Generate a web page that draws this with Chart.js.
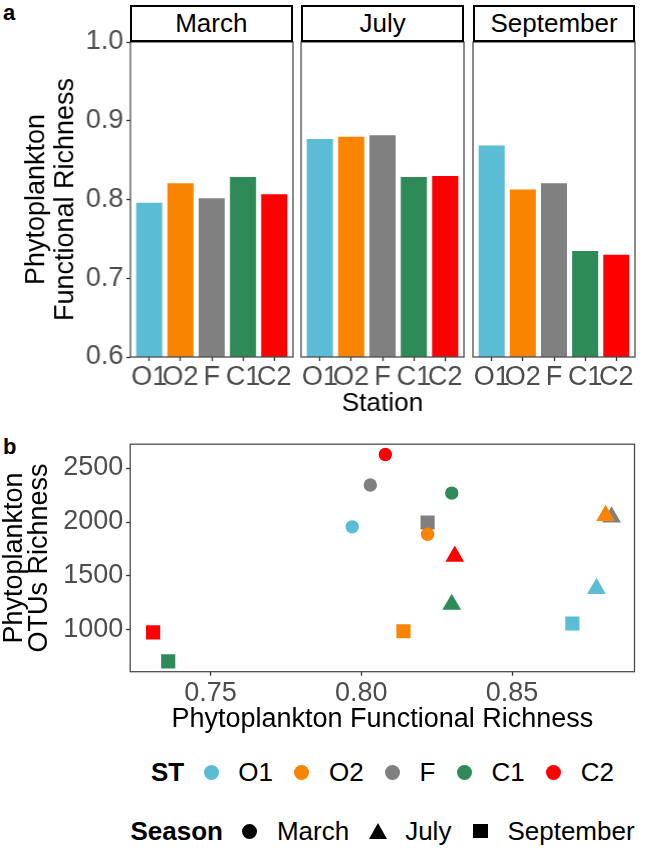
<!DOCTYPE html>
<html>
<head>
<meta charset="utf-8">
<script src="https://cdn.jsdelivr.net/npm/chart.js@4.4.1/dist/chart.umd.min.js"></script>
<style>
  html, body { margin: 0; padding: 0; background: #fff; }
  body { width: 646px; height: 852px; position: relative; overflow: hidden; font-family: 'Liberation Sans', Arial, sans-serif; }
  canvas { position: absolute; }
  .tag { position: absolute; left: 3px; font-weight: bold; font-size: 22px; line-height: 22px; }
  .strip { position: absolute; top: 5px; height: 37px; box-sizing: border-box; border: 2.5px solid #000; background: #fff;
           font-size: 26px; line-height: 32px; text-align: center; }
  .legend { position: absolute; left: 0; width: 765px; height: 30px; display: flex; justify-content: center; align-items: center;
            font-size: 26px; line-height: 30px; }
  .legend .title { font-weight: bold; margin-right: 16px; }
  .legend .key { width: 22px; height: 22px; display: flex; align-items: center; justify-content: center; }
  .legend .lab { margin-left: 16px; margin-right: 18px; }
  .legend .lab:last-child { margin-right: 0; }
  .dot { width: 15px; height: 15px; border-radius: 50%; }
  .tri { width: 0; height: 0; border-left: 9.3px solid transparent; border-right: 9.3px solid transparent; border-bottom: 16px solid #000; }
  .sq { width: 14.5px; height: 14.5px; background: #000; }
</style>
</head>
<body>
<div class="tag" style="top:2px">a</div>
<div class="tag" style="top:436px">b</div>
<script>
// stations and seasons
const stations = ['O1', 'O2', 'F', 'C1', 'C2'];
const seasons = ['March', 'July', 'September'];
const stationColors = ['#5BBCD6', '#F98400', '#808080', '#2E8B57', '#FF0000'];

// phytoplankton functional richness per station
const funcMarch = [0.797, 0.822, 0.803, 0.830, 0.808];
const funcJuly = [0.878, 0.881, 0.883, 0.830, 0.831];
const funcSeptember = [0.870, 0.814, 0.822, 0.736, 0.731];

// phytoplankton OTUs richness per station
const otuMarch = [1955, 1887, 2343, 2268, 2625];
const otuJuly = [1384, 2060, 2045, 1236, 1682];
const otuSeptember = [1060, 988, 1995, 709, 977];

const barTicks = [0.6, 0.7, 0.8, 0.9, 1.0];
const otuTicks = [1000, 1500, 2000, 2500];
const funcTicks = [0.75, 0.80, 0.85];

const seasonStyles = ['circle', 'triangle', 'rect'];
const seasonRadius = [6.7, 10.8, 10];
const funcBySeason = [funcMarch, funcJuly, funcSeptember];
const otuBySeason = [otuMarch, otuJuly, otuSeptember];

Chart.defaults.font.family = "'Liberation Sans', Arial, sans-serif";
Chart.defaults.plugins.legend.display = false;
Chart.defaults.plugins.tooltip.enabled = false;

const GREY_TXT = '#4D4D4D';
const TICK_COL = '#333333';

// ggplot-like panel border
const panelBorder = {
  id: 'panelBorder',
  afterDatasetsDraw(chart) {
    const { ctx, chartArea: a } = chart;
    ctx.save();
    ctx.strokeStyle = '#4D4D4D';
    ctx.lineWidth = 1.3;
    ctx.strokeRect(a.left, a.top, a.right - a.left, a.bottom - a.top);
    ctx.restore();
  }
};

function addCanvas(left, top, w, h) {
  const c = document.createElement('canvas');
  c.width = w; c.height = h;
  c.style.left = left + 'px'; c.style.top = top + 'px';
  c.style.width = w + 'px'; c.style.height = h + 'px';
  document.body.appendChild(c);
  return c;
}

// ---- panel a: three facets ----
const facetLeft = [130, 301.4, 472.8];
const facetWidth = 162.5;
const facetH = 425;

function drawFacet(i, values) {
  const first = i === 0;
  const lead = first ? 130 : 12;
  const cv = addCanvas(facetLeft[i] - lead, 0, lead + facetWidth + 12, facetH);

  const strip = document.createElement('div');
  strip.className = 'strip';
  strip.style.left = facetLeft[i] + 'px';
  strip.style.width = facetWidth + 'px';
  strip.textContent = seasons[i];
  document.body.appendChild(strip);

  new Chart(cv, {
    type: 'bar',
    data: {
      datasets: [{
        data: values.map((v, k) => ({ x: k + 1, y: v })),
        backgroundColor: stationColors,
        borderColor: 'rgba(255,255,255,0.6)',
        borderWidth: 1,
        borderSkipped: 'start',
        barPercentage: 0.9,
        categoryPercentage: 1
      }]
    },
    options: {
      responsive: false,
      devicePixelRatio: 1,
      animation: false,
      layout: { padding: { left: first ? 0 : lead, right: 12, top: 42, bottom: 0 } },
      scales: {
        x: {
          type: 'linear', min: 0.4, max: 5.6, offset: false,
          afterBuildTicks: s => { s.ticks = stations.map((_, k) => ({ value: k + 1 })); },
          afterFit: s => { s.height = facetH - 357; s.paddingLeft = 0; s.paddingRight = 0; },
          ticks: { autoSkip: false, maxRotation: 0, minRotation: 0, padding: 0, color: GREY_TXT,
                   font: { size: 27 }, callback: (v, k) => stations[k] },
          grid: { display: true, drawOnChartArea: false, offset: false, tickLength: 4, tickColor: TICK_COL, tickWidth: 1.3 },
          border: { display: false },
          title: { display: i === 1, text: 'Station', color: '#000', font: { size: 26 }, padding: { top: 0, bottom: 5.7 } }
        },
        y: {
          display: first, min: 0.6, max: 1.0,
          afterBuildTicks: s => { s.ticks = barTicks.map(v => ({ value: v })); },
          afterFit: s => { if (first) s.width = 130; },
          ticks: { padding: 3, color: GREY_TXT, font: { size: 27 }, callback: v => v.toFixed(1) },
          grid: { drawOnChartArea: false, tickLength: 4, tickColor: TICK_COL, tickWidth: 1.3 },
          border: { display: false },
          title: { display: true, text: ['Phytoplankton', 'Functional Richness'], color: '#000',
                   font: { size: 27, lineHeight: 1.055 }, padding: { top: 22.7, bottom: 0 } }
        }
      }
    },
    plugins: [panelBorder]
  });
}

drawFacet(0, funcMarch);
drawFacet(1, funcJuly);
drawFacet(2, funcSeptember);

// ---- panel b: scatter ----
const allX = funcBySeason.flat();
const allY = otuBySeason.flat();
const xPad = (Math.max(...allX) - Math.min(...allX)) * 0.05;
const yPad = (Math.max(...allY) - Math.min(...allY)) * 0.05;

const drawOrder = [...stations].sort().reverse();
const scatterTop = 425;
const scatterH = 312;
const sc = addCanvas(0, scatterTop, 646, scatterH);

new Chart(sc, {
  type: 'scatter',
  data: {
    datasets: stations.map((s, k) => ({
      label: s,
      data: seasons.map((_, j) => ({ x: funcBySeason[j][k], y: otuBySeason[j][k] })),
      pointStyle: seasonStyles,
      pointRadius: seasonRadius,
      backgroundColor: stationColors[k],
      borderWidth: 0,
      order: drawOrder.indexOf(s)
    }))
  },
  options: {
    responsive: false,
    devicePixelRatio: 1,
    animation: false,
    layout: { padding: { left: 0, right: 646 - 634.5, top: 436.7 - scatterTop, bottom: 0 } },
    scales: {
      x: {
        type: 'linear', min: Math.min(...allX) - xPad, max: Math.max(...allX) + xPad,
        afterBuildTicks: s => { s.ticks = funcTicks.map(v => ({ value: v })); },
        afterFit: s => { s.height = scatterH - (671.7 - scatterTop); s.paddingLeft = 0; s.paddingRight = 0; },
        ticks: { autoSkip: false, maxRotation: 0, padding: 2, color: GREY_TXT, font: { size: 27 }, callback: v => v.toFixed(2) },
        grid: { drawOnChartArea: false, tickLength: 4, tickColor: TICK_COL, tickWidth: 1.3 },
        border: { display: false },
        title: { display: true, text: 'Phytoplankton Functional Richness', color: '#000', font: { size: 27 },
                 padding: { top: 0, bottom: 1.2 } }
      },
      y: {
        type: 'linear', min: Math.min(...allY) - yPad, max: Math.max(...allY) + yPad,
        afterBuildTicks: s => { s.ticks = otuTicks.map(v => ({ value: v })); },
        afterFit: s => { s.width = 130.2; },
        ticks: { padding: 3, color: GREY_TXT, font: { size: 27 }, callback: v => String(v) },
        grid: { drawOnChartArea: false, tickLength: 4, tickColor: TICK_COL, tickWidth: 1.3 },
        border: { display: false },
        title: { display: true, text: ['Phytoplankton', 'OTUs Richness'], color: '#000',
                 font: { size: 27, lineHeight: 0.95 }, padding: { top: 1.5, bottom: 0 } }
      }
    }
  },
  plugins: [panelBorder]
});

// ---- legends ----
function legendRow(top, title, keys, labels) {
  const row = document.createElement('div');
  row.className = 'legend';
  row.style.top = top + 'px';
  const t = document.createElement('span');
  t.className = 'title';
  t.textContent = title;
  row.appendChild(t);
  keys.forEach((mk, k) => {
    const key = document.createElement('span');
    key.className = 'key';
    key.appendChild(mk);
    row.appendChild(key);
    const lab = document.createElement('span');
    lab.className = 'lab';
    lab.textContent = labels[k];
    row.appendChild(lab);
  });
  document.body.appendChild(row);
}

legendRow(757, 'ST', stationColors.map(c => {
  const d = document.createElement('span');
  d.className = 'dot';
  d.style.background = c;
  return d;
}), stations);

legendRow(816, 'Season', seasonStyles.map(st => {
  const d = document.createElement('span');
  d.className = st === 'circle' ? 'dot' : st === 'triangle' ? 'tri' : 'sq';
  if (st === 'circle') d.style.background = '#000';
  return d;
}), seasons);
</script>
</body>
</html>
